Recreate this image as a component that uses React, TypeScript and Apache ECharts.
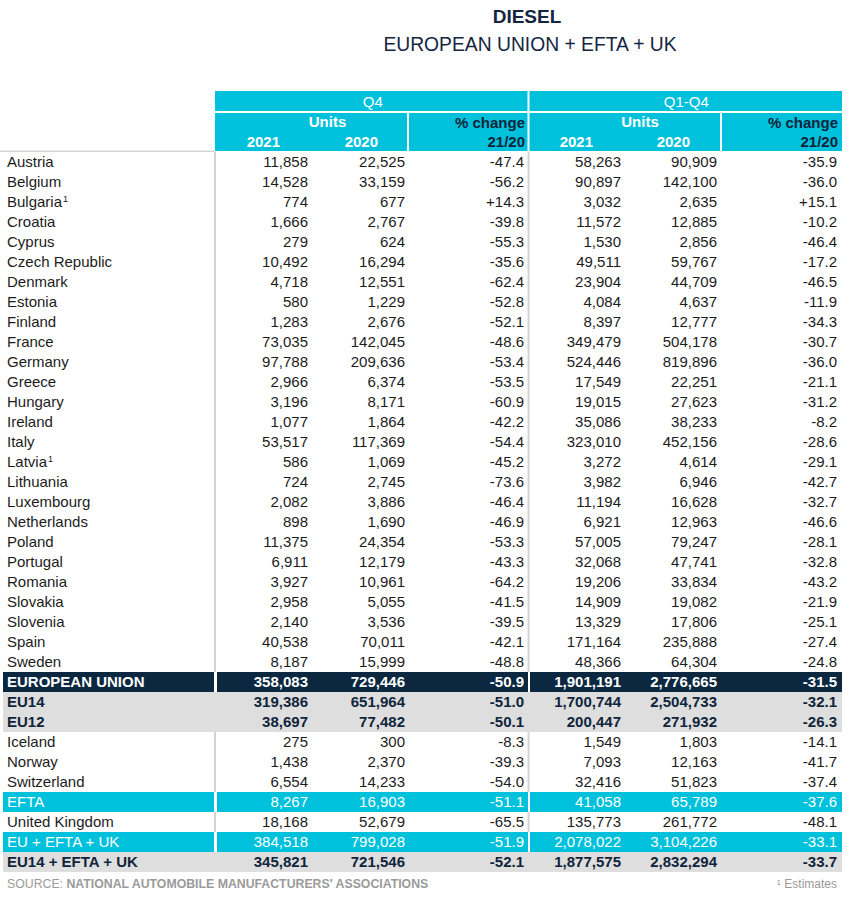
import React, { useEffect, useRef } from "react";
import * as echarts from "echarts";

// ---------- data ----------
const rowLabels = [
  "Austria", "Belgium", "Bulgaria", "Croatia", "Cyprus", "Czech Republic", "Denmark", "Estonia",
  "Finland", "France", "Germany", "Greece", "Hungary", "Ireland", "Italy", "Latvia", "Lithuania",
  "Luxembourg", "Netherlands", "Poland", "Portugal", "Romania", "Slovakia", "Slovenia", "Spain",
  "Sweden", "EUROPEAN UNION", "EU14", "EU12", "Iceland", "Norway", "Switzerland", "EFTA",
  "United Kingdom", "EU + EFTA + UK", "EU14 + EFTA + UK",
];
const q4Units2021 = [
  11858, 14528, 774, 1666, 279, 10492, 4718, 580, 1283, 73035, 97788, 2966, 3196, 1077, 53517,
  586, 724, 2082, 898, 11375, 6911, 3927, 2958, 2140, 40538, 8187, 358083, 319386, 38697, 275,
  1438, 6554, 8267, 18168, 384518, 345821,
];
const q4Units2020 = [
  22525, 33159, 677, 2767, 624, 16294, 12551, 1229, 2676, 142045, 209636, 6374, 8171, 1864, 117369,
  1069, 2745, 3886, 1690, 24354, 12179, 10961, 5055, 3536, 70011, 15999, 729446, 651964, 77482, 300,
  2370, 14233, 16903, 52679, 799028, 721546,
];
const q4Change = [
  -47.4, -56.2, 14.3, -39.8, -55.3, -35.6, -62.4, -52.8, -52.1, -48.6, -53.4, -53.5, -60.9, -42.2,
  -54.4, -45.2, -73.6, -46.4, -46.9, -53.3, -43.3, -64.2, -41.5, -39.5, -42.1, -48.8, -50.9, -51.0,
  -50.1, -8.3, -39.3, -54.0, -51.1, -65.5, -51.9, -52.1,
];
const fyUnits2021 = [
  58263, 90897, 3032, 11572, 1530, 49511, 23904, 4084, 8397, 349479, 524446, 17549, 19015, 35086,
  323010, 3272, 3982, 11194, 6921, 57005, 32068, 19206, 14909, 13329, 171164, 48366, 1901191,
  1700744, 200447, 1549, 7093, 32416, 41058, 135773, 2078022, 1877575,
];
const fyUnits2020 = [
  90909, 142100, 2635, 12885, 2856, 59767, 44709, 4637, 12777, 504178, 819896, 22251, 27623, 38233,
  452156, 4614, 6946, 16628, 12963, 79247, 47741, 33834, 19082, 17806, 235888, 64304, 2776665,
  2504733, 271932, 1803, 12163, 51823, 65789, 261772, 3104226, 2832294,
];
const fyChange = [
  -35.9, -36.0, 15.1, -10.2, -46.4, -17.2, -46.5, -11.9, -34.3, -30.7, -36.0, -21.1, -31.2, -8.2,
  -28.6, -29.1, -42.7, -32.7, -46.6, -28.1, -32.8, -43.2, -21.9, -25.1, -27.4, -24.8, -31.5, -32.1,
  -26.3, -14.1, -41.7, -37.4, -37.6, -48.1, -33.1, -33.7,
];
const footnotedRows = ["Bulgaria", "Latvia"];
const euRows = ["EUROPEAN UNION"];
const greyRows = ["EU14", "EU12", "EU14 + EFTA + UK"];
const cyanRows = ["EFTA", "EU + EFTA + UK"];
const periodHeaders = ["Q4", "Q1-Q4"];
const unitsHeader = "Units";
const yearHeaders = ["2021", "2020"];
const changeHeaders = ["% change", "21/20"];
const titleText = "DIESEL";
const subtitleText = "EUROPEAN UNION + EFTA + UK";
const sourceLabel = "SOURCE: ";
const sourceText = "NATIONAL AUTOMOBILE MANUFACTURERS' ASSOCIATIONS";
const footnoteText = "Estimates";

// ---------- layout / style ----------
const FONT = "'Liberation Sans', Arial, Helvetica, sans-serif";
const CYAN = "#00c1dc";
const NAVY = "#0b2840";
const GREY_BG = "#dedede";
const LINE = "#d4d4d4";
const TEXT = "#1c1c1c";
const BOLD_TEXT = "#10253b";
const LABEL_END = 215;
const SPLIT = 528.5;
const RIGHT = 842;
const colRight = [308, 405, 524, 621, 717, 837];

const fmtInt = (v: number) => v.toLocaleString("en-US");
const fmtPct = (v: number) => (v > 0 ? "+" : "") + v.toFixed(1);

export default function App() {
  const ref = useRef<HTMLDivElement>(null);

  useEffect(() => {
    if (!ref.current) return;
    const chart = echarts.init(ref.current, undefined, { renderer: "svg" });

    const renderItem = (params: any, api: any) => {
      const idx = api.value(1);
      const label = rowLabels[idx];
      const [, cy] = api.coord([0, idx]);
      const h = api.size([0, 1])[1];
      const top = cy - h / 2;
      const children: any[] = [];
      const isEu = euRows.includes(label);
      const isGrey = greyRows.includes(label);
      const isCyan = cyanRows.includes(label);

      if (isEu || isCyan) {
        const fill = isEu ? NAVY : CYAN;
        children.push(
          { type: "rect", shape: { x: 3, y: top, width: LABEL_END - 1 - 3, height: h }, style: { fill } },
          { type: "rect", shape: { x: LABEL_END + 2, y: top, width: SPLIT - 0.5 - (LABEL_END + 2), height: h }, style: { fill } },
          { type: "rect", shape: { x: SPLIT + 1.5, y: top, width: RIGHT - (SPLIT + 1.5), height: h }, style: { fill } }
        );
      } else if (isGrey) {
        children.push({ type: "rect", shape: { x: 3, y: top, width: RIGHT - 3, height: h }, style: { fill: GREY_BG } });
      } else {
        children.push(
          { type: "rect", shape: { x: LABEL_END - 1, y: top, width: 2, height: h }, style: { fill: LINE } },
          { type: "rect", shape: { x: SPLIT - 1, y: top, width: 2, height: h }, style: { fill: LINE } }
        );
      }

      let color = TEXT;
      let weight: any = "normal";
      if (isEu) { color = "#ffffff"; weight = "bold"; }
      else if (isGrey) { color = BOLD_TEXT; weight = "bold"; }
      else if (isCyan) { color = "#ffffff"; }

      const ty = cy - 0.5;
      const hasNote = footnotedRows.includes(label);
      children.push({
        type: "text",
        style: {
          text: hasNote ? label + "{sup|1}" : label,
          x: 7,
          y: ty,
          align: "left",
          verticalAlign: "middle",
          fontSize: 15,
          fontFamily: FONT,
          fontWeight: weight,
          fill: color,
          rich: {
            sup: { fontSize: 9, fontFamily: FONT, fill: color, verticalAlign: "top", padding: [0, 0, 0, 1] },
          },
        },
      });

      const vals = [
        fmtInt(q4Units2021[idx]), fmtInt(q4Units2020[idx]), fmtPct(q4Change[idx]),
        fmtInt(fyUnits2021[idx]), fmtInt(fyUnits2020[idx]), fmtPct(fyChange[idx]),
      ];
      vals.forEach((t, c) => {
        children.push({
          type: "text",
          style: {
            text: t,
            x: colRight[c],
            y: ty,
            align: "right",
            verticalAlign: "middle",
            fontSize: 15,
            fontFamily: FONT,
            fontWeight: weight,
            fill: color,
          },
        });
      });
      return { type: "group", children };
    };

    const headerText = (text: string, x: number, y: number, align: string, bold: boolean, fill: string, size = 15) => ({
      type: "text",
      style: { text, x, y, align, verticalAlign: "middle", fontSize: size, fontFamily: FONT, fontWeight: bold ? "bold" : "normal", fill },
      z: 10,
    });

    const sections = [
      { left: LABEL_END, right: SPLIT, units: [colRight[0], colRight[1]], change: colRight[2] },
      { left: SPLIT, right: RIGHT, units: [colRight[3], colRight[4]], change: colRight[5] },
    ];

    const graphics: any[] = [
      headerText(titleText, 527, 16, "center", true, "#14263f", 19),
      headerText(subtitleText, 530, 44, "center", false, "#14263f", 19.3),
      { type: "rect", shape: { x: LABEL_END, y: 91, width: RIGHT - LABEL_END, height: 60 }, style: { fill: CYAN } },
      { type: "rect", shape: { x: LABEL_END, y: 111, width: RIGHT - LABEL_END, height: 2 }, style: { fill: "#ffffff" } },
      { type: "rect", shape: { x: SPLIT - 1, y: 91, width: 2, height: 60 }, style: { fill: "#ffffff" } },
      { type: "rect", shape: { x: 407, y: 113, width: 2, height: 38 }, style: { fill: "#ffffff" } },
      { type: "rect", shape: { x: 720, y: 113, width: 2, height: 38 }, style: { fill: "#ffffff" } },
      { type: "rect", shape: { x: 0, y: 150.5, width: LABEL_END, height: 1.5 }, style: { fill: LINE } },
    ];
    sections.forEach((s, i) => {
      graphics.push(headerText(periodHeaders[i], (s.left + s.right) / 2 + 1, 101, "center", false, "#ffffff"));
      const unitsCenter = (s.units[0] + s.units[1]) / 2 - 46;
      graphics.push(headerText(unitsHeader, unitsCenter + 17, 121, "center", true, "#ffffff"));
      graphics.push(headerText(yearHeaders[0], s.units[0] - 28, 141, "right", true, "#ffffff"));
      graphics.push(headerText(yearHeaders[1], s.units[1] - 27, 141, "right", true, "#ffffff"));
      graphics.push(headerText(changeHeaders[0], s.change + 1, 122, "right", true, BOLD_TEXT));
      graphics.push(headerText(changeHeaders[1], s.change + 1, 141, "right", true, BOLD_TEXT));
    });
    graphics.push({
      type: "text",
      style: {
        text: "{a|" + sourceLabel + "}{b|" + sourceText + "}",
        x: 7,
        y: 884,
        verticalAlign: "middle",
        rich: {
          a: { fontSize: 12.3, fontFamily: FONT, fill: "#9a9a9a" },
          b: { fontSize: 12.3, fontFamily: FONT, fontWeight: "bold", fill: "#9a9a9a" },
        },
      },
    });
    graphics.push({
      type: "text",
      style: {
        text: "{s|1} {a|" + footnoteText + "}",
        x: 837,
        y: 884,
        align: "right",
        verticalAlign: "middle",
        rich: {
          s: { fontSize: 8, fontFamily: FONT, fill: "#9a9a9a", verticalAlign: "top" },
          a: { fontSize: 12, fontFamily: FONT, fill: "#9a9a9a" },
        },
      },
    });

    chart.setOption({
      animation: false,
      backgroundColor: "#ffffff",
      grid: { left: 0, right: 0, top: 152, height: 720, containLabel: false },
      xAxis: { type: "value", min: 0, max: 850, show: false },
      yAxis: { type: "category", data: rowLabels, inverse: true, show: false },
      graphic: graphics,
      series: [
        {
          type: "custom",
          renderItem,
          clip: false,
          encode: { x: 0, y: 1 },
          data: rowLabels.map((_, i) => [0, i]),
        },
      ],
    });

    return () => chart.dispose();
  }, []);

  return (
    <div
      ref={ref}
      style={{ position: "fixed", left: 0, top: 0, width: 850, height: 898, background: "#fff" }}
    />
  );
}
